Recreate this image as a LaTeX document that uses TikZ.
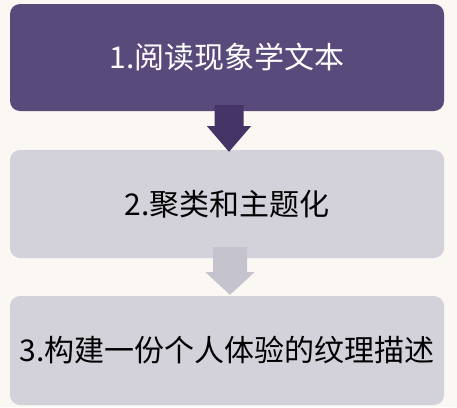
\documentclass[tikz,border=0pt]{standalone}
\usepackage{fontspec}
\setmainfont{Noto Sans CJK SC}
\usetikzlibrary{calc}
\definecolor{bgc}{HTML}{FBF8F3}
\definecolor{darkbox}{HTML}{594A7C}
\definecolor{darkarrow}{HTML}{443566}
\definecolor{lightbox}{HTML}{D3D1D9}
\definecolor{lightarrow}{HTML}{C5C3CE}
\tikzset{
  stepbox/.style={rectangle, rounded corners=10pt, minimum width=434pt, inner sep=0pt, font=\fontsize{30pt}{36pt}\selectfont},
  topbox/.style={stepbox, fill=darkbox, text=white},
  lowbox/.style={stepbox, fill=lightbox, text=black}
}
\begin{document}
\begin{tikzpicture}[x=1pt,y=-1pt]
\fill[bgc] (0,0) rectangle (457,407);
\useasboundingbox (0,0) rectangle (457,407);
\node[topbox, minimum height=107pt] (b1) at (227,57.5) {1.阅读现象学文本};
\node[lowbox, minimum height=108pt] (b2) at (227,204) {2.聚类和主题化};
\node[lowbox, minimum height=109pt] (b3) at (227,350.5) {3.构建一份个人体验的纹理描述};
% arrow 1
\coordinate (a1) at ($(b1.south)+(2,0)$);
\fill[darkarrow] ($(a1)+(-14.5,-6)$) -- ($(a1)+(14.5,-6)$) -- ($(a1)+(14.5,15)$) -- ($(a1)+(22,15)$)
  -- ($(b2.north)+(2,2)$) -- ($(a1)+(-22,15)$) -- ($(a1)+(-14.5,15)$) -- cycle;
% arrow 2
\coordinate (a2) at ($(b2.south)+(3,0)$);
\fill[lightarrow] ($(a2)+(-17,-11)$) -- ($(a2)+(17,-11)$) -- ($(a2)+(17,14)$) -- ($(a2)+(24.5,14)$)
  -- ($(b3.north)+(3,-1)$) -- ($(a2)+(-24.5,14)$) -- ($(a2)+(-17,14)$) -- cycle;
\end{tikzpicture}
\end{document}
